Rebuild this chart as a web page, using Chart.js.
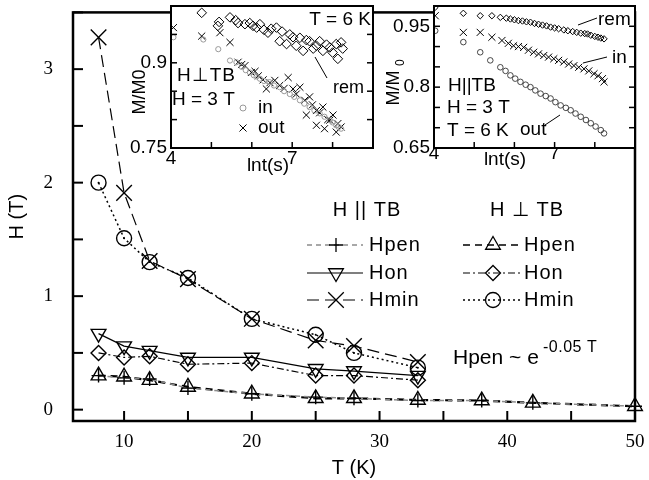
<!DOCTYPE html>
<html><head><meta charset="utf-8">
<script src="https://cdn.jsdelivr.net/npm/chart.js@4.4.0/dist/chart.umd.min.js"></script>
<style>
html,body{margin:0;padding:0;background:#fff;}
#wrap{position:relative;width:649px;height:480px;overflow:hidden;}
canvas{position:absolute;top:0;}
</style></head><body>
<div id="wrap">
<canvas id="main" width="649" height="480" style="left:0;width:649px;height:480px"></canvas>
<canvas id="ins1" width="260" height="175" style="left:120px;width:260px;height:175px"></canvas>
<canvas id="ins2" width="274" height="175" style="left:375px;width:274px;height:175px"></canvas>
</div>
<script>
// ---------------- main chart data ----------------
const T_low = [8, 10, 12, 15, 20, 25, 28, 33];
const T_pen = [8, 10, 12, 15, 20, 25, 28, 33, 38, 42, 50];
const hpenPar  = [0.30, 0.28, 0.27, 0.19, 0.14, 0.11, 0.10, 0.08, 0.08, 0.06, 0.03];
const hpenPerp = [0.30, 0.29, 0.26, 0.20, 0.14, 0.10, 0.10, 0.085, 0.08, 0.06, 0.03];
const honPar   = [0.67, 0.56, 0.52, 0.46, 0.46, 0.36, 0.34, 0.30];
const honPerp  = [0.50, 0.46, 0.47, 0.40, 0.41, 0.30, 0.30, 0.26];
const hminPar  = [3.28, 1.91, 1.31, 1.15, 0.80, 0.61, 0.56, 0.42];
const hminPerp = [2.00, 1.51, 1.30, 1.16, 0.80, 0.66, 0.50, 0.37];
const mainXLabels = [10, 20, 30, 40, 50];
const mainYLabels = [0, 1, 2, 3];

// ---------------- inset 1 (H perp TB) ----------------
const in1RemT = [4.76,5.16,5.19,5.46,5.60,5.66,5.83,5.95,6.03,6.12,6.20,6.30,6.40,6.48,6.61,6.69,6.75,6.86,6.94,7.02,7.10,7.19,7.27,7.35,7.43,7.52,7.60,7.68,7.76,7.85,7.93,8.00,8.09,8.13,8.21,8.25];
const in1RemM = [0.988,0.965,0.972,0.980,0.975,0.970,0.968,0.970,0.965,0.962,0.968,0.958,0.953,0.960,0.962,0.938,0.955,0.933,0.950,0.945,0.930,0.944,0.921,0.940,0.938,0.925,0.930,0.938,0.921,0.932,0.927,0.918,0.933,0.907,0.936,0.925];
const in1OutT = [4.06,4.76,5.21,5.46,5.66,5.75,5.83,5.99,6.08,6.16,6.28,6.36,6.45,6.57,6.69,6.80,6.90,7.02,7.10,7.19,7.31,7.35,7.43,7.50,7.60,7.60,7.68,7.76,7.80,7.88,7.93,8.01,8.09,8.13,8.21];
const in1OutM = [0.962,0.947,0.953,0.936,0.901,0.897,0.895,0.883,0.885,0.877,0.870,0.854,0.865,0.869,0.860,0.855,0.874,0.854,0.845,0.857,0.834,0.808,0.840,0.826,0.816,0.790,0.812,0.822,0.784,0.800,0.799,0.808,0.778,0.793,0.787];
const in1InT  = [4.06,4.80,5.17,5.46,5.62,5.75,5.85,5.95,6.05,6.12,6.20,6.30,6.44,6.55,6.69,6.80,6.94,7.05,7.19,7.30,7.43,7.55,7.68,7.80,7.93,8.00,8.09,8.15,8.21];
const in1InM  = [0.945,0.941,0.924,0.904,0.901,0.893,0.887,0.883,0.878,0.876,0.872,0.868,0.866,0.860,0.857,0.850,0.845,0.840,0.834,0.828,0.822,0.816,0.811,0.805,0.799,0.795,0.790,0.787,0.784];
const in1XLabels = [4, 7];
const in1YLabels = [0.75, 0.9];

// ---------------- inset 2 (H || TB) ----------------
const in2RemT = [4.02,4.73,5.15,5.44,5.65,5.80,5.90,6.00,6.10,6.20,6.30,6.40,6.50,6.60,6.70,6.80,6.90,7.00,7.10,7.23,7.33,7.45,7.55,7.65,7.75,7.82,7.90,8.00,8.08,8.15,8.23];
const in2RemM = [0.996,0.982,0.976,0.976,0.972,0.970,0.968,0.966,0.964,0.963,0.961,0.960,0.957,0.955,0.953,0.951,0.948,0.946,0.944,0.941,0.939,0.937,0.935,0.933,0.932,0.931,0.928,0.925,0.923,0.921,0.919];
const in2InT  = [4.03,4.73,5.15,5.44,5.69,5.85,5.98,6.10,6.23,6.35,6.48,6.60,6.73,6.85,6.98,7.10,7.23,7.35,7.48,7.60,7.73,7.85,7.98,8.08,8.19,8.23];
const in2InM  = [0.976,0.935,0.935,0.923,0.915,0.908,0.902,0.900,0.898,0.891,0.886,0.882,0.878,0.874,0.870,0.866,0.862,0.857,0.853,0.849,0.845,0.840,0.833,0.828,0.821,0.813];
const in2OutT = [4.03,4.73,5.15,5.40,5.65,5.78,5.90,6.02,6.15,6.28,6.40,6.52,6.65,6.78,6.90,7.02,7.15,7.28,7.40,7.52,7.65,7.78,7.90,8.02,8.15,8.23];
const in2OutM = [0.939,0.911,0.886,0.866,0.849,0.840,0.829,0.821,0.813,0.806,0.800,0.792,0.784,0.778,0.772,0.763,0.755,0.749,0.743,0.735,0.727,0.719,0.711,0.703,0.694,0.686];
const in2XLabels = [4, 7];
const in2YLabels = [0.65, 0.8, 0.95];

// ---------------- helpers ----------------
const SANS = '"Liberation Sans", Arial, Helvetica, sans-serif';
const SERIF = '"Liberation Serif", "Times New Roman", serif';
const pts = (xs, ys) => xs.map((x, i) => ({x: x, y: ys[i]}));
const near = (list, v) => list.some(l => Math.abs(l - v) < 1e-6);
const CLEAR = 'rgba(0,0,0,0)';

function drawMarker(ctx, style, r, x, y, rot) {
  ctx.fillStyle = CLEAR;
  if (Chart.helpers && Chart.helpers.drawPoint) {
    Chart.helpers.drawPoint(ctx, {pointStyle: style, radius: r, rotation: rot || 0, borderWidth: ctx.lineWidth}, x, y);
    return;
  }
  ctx.beginPath(); ctx.arc(x, y, r, 0, Math.PI * 2); ctx.stroke();
}
function txt(ctx, s, x, y, font, align, ls) {
  ctx.font = font; ctx.textAlign = align || 'left'; ctx.textBaseline = 'middle';
  try { ctx.letterSpacing = ls || '0px'; } catch (e) {}
  ctx.fillStyle = '#000'; ctx.fillText(s, x, y);
  try { ctx.letterSpacing = '0px'; } catch (e) {}
}
function seg(ctx, x1, y1, x2, y2) { ctx.beginPath(); ctx.moveTo(x1, y1); ctx.lineTo(x2, y2); ctx.stroke(); }

function frame(opts) {
  return {
    id: 'frame',
    beforeDraw(chart) {
      if (!opts.fill) return;
      const a = chart.chartArea, c = chart.ctx;
      c.save(); c.fillStyle = '#fff'; c.fillRect(a.left, a.top, a.right - a.left, a.bottom - a.top); c.restore();
    },
    afterDatasetsDraw(chart) {
      if (opts.dotDs === undefined) return;
      const c = chart.ctx;
      c.save(); c.fillStyle = '#000';
      chart.getDatasetMeta(opts.dotDs).data.forEach(p => { c.beginPath(); c.arc(p.x, p.y, 1, 0, Math.PI * 2); c.fill(); });
      c.restore();
    },
    afterDraw(chart) {
      const a = chart.chartArea, c = chart.ctx, xs = chart.scales.x, ys = chart.scales.y;
      c.save(); c.strokeStyle = '#000'; c.lineWidth = opts.tickW; c.setLineDash([]);
      xs.ticks.forEach(t => { const p = xs.getPixelForValue(t.value); seg(c, p, a.bottom, p, a.bottom - opts.len); });
      ys.ticks.forEach(t => { const p = ys.getPixelForValue(t.value);
        seg(c, a.left, p, a.left + opts.len, p);
        if (opts.mirror) seg(c, a.right, p, a.right - opts.len, p); });
      c.lineWidth = opts.frameW;
      c.strokeRect(a.left, a.top, a.right - a.left, a.bottom - a.top);
      c.restore();
      if (opts.extra) opts.extra(c, chart);
    }
  };
}

function lineDs(label, xs, ys, style, r, rot, dash, w, lineColor) {
  return {
    label: label, data: pts(xs, ys), showLine: true, tension: 0, clip: false,
    borderColor: lineColor || '#000', borderWidth: w, borderDash: dash,
    pointStyle: style, pointRadius: r, pointRotation: rot, pointBorderColor: '#000',
    pointBackgroundColor: CLEAR, pointBorderWidth: 1.4, pointHoverRadius: r
  };
}
function scatDs(label, xs, ys, style, r, color, bw) {
  return {
    label: label, data: pts(xs, ys), showLine: false, pointStyle: style, pointRadius: r,
    pointBorderColor: color, pointBackgroundColor: CLEAR, pointBorderWidth: bw || 1, pointHoverRadius: r
  };
}

// ---------------- main chart ----------------
const legendRows = [
  {name: 'Hpen', dsIdx: [0, 1]},
  {name: 'Hon',  dsIdx: [2, 3]},
  {name: 'Hmin', dsIdx: [4, 5]}
];

function mainExtra(c, chart) {
  c.save();
  txt(c, 'H || TB', 367, 210, '20px ' + SANS, 'center', '1px');
  txt(c, 'H \u22A5 TB', 527, 210, '20px ' + SANS, 'center', '1px');
  const rowsY = [245, 273, 300];
  legendRows.forEach((row, i) => {
    [[307, 363, 336, 369], [463, 521, 493, 524]].forEach((col, k) => {
      const d = chart.data.datasets[row.dsIdx[k]];
      c.strokeStyle = d.borderColor; c.lineWidth = Math.min(d.borderWidth, 1.3);
      c.setLineDash(d.borderDash || []);
      seg(c, col[0], rowsY[i], col[1], rowsY[i]);
      c.setLineDash([]);
      c.strokeStyle = '#000'; c.lineWidth = 1.3;
      drawMarker(c, d.pointStyle, d.pointRadius, col[2], rowsY[i], d.pointRotation);
      txt(c, row.name, col[3], rowsY[i], '20px ' + SANS, 'left', '1px');
    });
  });
  txt(c, 'Hpen ~ e', 453, 358, '21px ' + SANS, 'left');
  txt(c, '-0.05 T', 543, 348, '16px ' + SANS, 'left', '0.5px');
  c.restore();
}

new Chart(document.getElementById('main'), {
  type: 'scatter',
  data: {
    datasets: [
      lineDs('Hpen || TB', T_pen, hpenPar, 'cross', 7, 0, [5, 4], 1.5, '#8c8c8c'),
      lineDs('Hpen \u22A5 TB', T_pen, hpenPerp, 'triangle', 8.5, 0, [7, 5], 2.2, '#000'),
      lineDs('Hon || TB', T_low, honPar, 'triangle', 8.5, 180, [], 1.2, '#000'),
      lineDs('Hon \u22A5 TB', T_low, honPerp, 'rectRot', 7.5, 0, [7, 3, 2, 3], 1.2, '#000'),
      lineDs('Hmin || TB', T_low, hminPar, 'crossRot', 11, 0, [12, 6], 1.2, '#000'),
      lineDs('Hmin \u22A5 TB', T_low, hminPerp, 'circle', 7.5, 0, [2, 3], 1.5, '#000')
    ]
  },
  options: {
    responsive: false, animation: false, devicePixelRatio: 1,
    layout: {padding: {left: 0, right: 14, top: 5, bottom: 0}},
    plugins: {legend: {display: false}, tooltip: {enabled: false}},
    scales: {
      x: {
        type: 'linear', min: 6, max: 50,
        ticks: {stepSize: 5, includeBounds: false, autoSkip: false, maxRotation: 0, padding: 10, color: '#000',
          font: {family: SERIF, size: 19}, callback: v => near(mainXLabels, v) ? String(v) : ''},
        grid: {display: false, drawTicks: false}, border: {display: false},
        title: {display: true, text: 'T (K)', color: '#000', font: {family: SANS, size: 20}, padding: {top: 0, bottom: 0}},
        afterFit(s) { s.height = 59; s.paddingLeft = 0; s.paddingRight = 0; }
      },
      y: {
        type: 'linear', min: -0.1, max: 3.5,
        ticks: {stepSize: 0.5, includeBounds: false, autoSkip: false, padding: 20, color: '#000',
          font: {family: SERIF, size: 19}, callback: v => near(mainYLabels, v) ? String(Math.round(v)) : ''},
        grid: {display: false, drawTicks: false}, border: {display: false},
        title: {display: true, text: 'H (T)', color: '#000', font: {family: SANS, size: 20}, padding: {top: 5, bottom: 5}},
        afterFit(s) { s.width = 73; s.paddingTop = 0; s.paddingBottom = 0; }
      }
    }
  },
  plugins: [frame({len: 10, tickW: 2, frameW: 2.5, mirror: false, fill: false, dotDs: 5, extra: mainExtra})]
});

// ---------------- inset options factory ----------------
function insetOptions(xLabels, yLabels, yMin, yMax, yw, padRight, xPad, yFmt) {
  return {
    responsive: false, animation: false, devicePixelRatio: 1,
    layout: {padding: {left: 0, right: padRight, top: 5, bottom: 0}},
    plugins: {legend: {display: false}, tooltip: {enabled: false}},
    scales: {
      x: {
        type: 'linear', min: 4, max: 9,
        ticks: {stepSize: 1, autoSkip: false, maxRotation: 0, padding: xPad, color: '#000',
          font: {family: SANS, size: 19, lineHeight: 1}, callback: v => near(xLabels, v) ? String(v) : ''},
        grid: {display: false, drawTicks: false}, border: {display: false},
        afterFit(s) { s.height = 27; s.paddingLeft = 0; s.paddingRight = 0; }
      },
      y: {
        type: 'linear', min: yMin, max: yMax,
        ticks: {stepSize: 0.05, includeBounds: false, autoSkip: false, padding: 4, color: '#000',
          font: {family: SANS, size: 19}, callback: v => near(yLabels, v) ? yFmt(v) : ''},
        grid: {display: false, drawTicks: false}, border: {display: false},
        afterFit(s) { s.width = yw; s.paddingTop = 0; s.paddingBottom = 0; }
      }
    }
  };
}

// ---------------- inset 1 ----------------
function ins1Extra(c) {
  c.save();
  const F = '19px ' + SANS;
  txt(c, 'T = 6 K', 251, 20, F, 'right');
  txt(c, 'H\u22A5TB', 57, 76, F, 'left', '1px');
  txt(c, 'H = 3 T', 52, 100, F, 'left');
  c.strokeStyle = '#999'; c.lineWidth = 1;
  drawMarker(c, 'circle', 3, 123, 108, 0);
  txt(c, 'in', 138, 108, F, 'left');
  c.strokeStyle = '#000'; c.lineWidth = 1;
  drawMarker(c, 'crossRot', 5, 123, 128, 0);
  txt(c, 'out', 138, 128, F, 'left');
  txt(c, 'rem', 213, 88, '18px ' + SANS, 'left');
  c.strokeStyle = '#000'; c.lineWidth = 1; seg(c, 195, 57, 207, 78);
  txt(c, 'lnt(s)', 148, 166, F, 'center');
  c.save(); c.translate(20, 92); c.rotate(-Math.PI / 2);
  txt(c, 'M/M0', 0, 0, '18px ' + SANS, 'center');
  c.restore();
  c.restore();
}
new Chart(document.getElementById('ins1'), {
  type: 'scatter',
  data: {datasets: [
    scatDs('in', in1InT, in1InM, 'circle', 2.6, '#9a9a9a', 1),
    scatDs('rem', in1RemT, in1RemM, 'rectRot', 4.8, '#000', 1),
    scatDs('out', in1OutT, in1OutM, 'crossRot', 5, '#000', 1)
  ]},
  options: insetOptions(in1XLabels, in1YLabels, 0.75, 1.0, 51, 7, 1, v => String(+v.toFixed(2))),
  plugins: [frame({len: 6, tickW: 1.5, frameW: 2, mirror: true, fill: true, extra: ins1Extra})]
});

// ---------------- inset 2 ----------------
function ins2Extra(c) {
  c.save();
  const F = '19px ' + SANS;
  txt(c, 'rem', 223, 20, F, 'left');
  txt(c, 'in', 237, 58, F, 'left');
  txt(c, 'out', 145, 130, F, 'left');
  c.strokeStyle = '#000'; c.lineWidth = 1;
  seg(c, 203, 25, 222, 18);
  seg(c, 208, 63, 232, 57);
  seg(c, 170, 125, 185, 115);
  txt(c, 'H||TB', 73, 86, F, 'left');
  txt(c, 'H = 3 T', 72, 108, F, 'left');
  txt(c, 'T = 6 K', 72, 131, F, 'left');
  txt(c, 'lnt(s)', 130, 160, F, 'center');
  c.save(); c.translate(19, 82); c.rotate(-Math.PI / 2);
  txt(c, 'M/M', -6, 0, '18px ' + SANS, 'center');
  txt(c, '0', 16, 7, '12px ' + SANS, 'left');
  c.restore();
  c.restore();
}
new Chart(document.getElementById('ins2'), {
  type: 'scatter',
  data: {datasets: [
    scatDs('out', in2OutT, in2OutM, 'circle', 2.8, '#333', 0.9),
    scatDs('in', in2InT, in2InM, 'crossRot', 5, '#000', 1),
    scatDs('rem', in2RemT, in2RemM, 'rectRot', 3.2, '#000', 1)
  ]},
  options: insetOptions(in2XLabels, in2YLabels, 0.65, 1.0, 59, 14, -4, v => String(+v.toFixed(2))),
  plugins: [frame({len: 6, tickW: 1.5, frameW: 2, mirror: true, fill: true, extra: ins2Extra})]
});
</script>
</body></html>
